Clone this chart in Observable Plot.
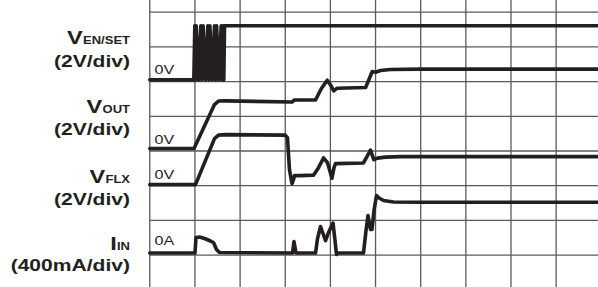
<!DOCTYPE html>
<html>
<head>
<meta charset="utf-8">
<script src="https://cdn.jsdelivr.net/npm/d3@7"></script>
<script src="https://cdn.jsdelivr.net/npm/@observablehq/plot@0.6"></script>
<style>
  html, body { margin: 0; padding: 0; background: #fff; overflow: hidden; }
  svg { display: block; }
</style>
</head>
<body>
<div id="chart"></div>
<script>
// ---- Data (time and amplitude in scope divisions) ----
const channelSub   = ["EN/SET", "OUT", "FLX", "IN"];
const channelMain  = ["V", "V", "V", "I"];
const channelScale = ["(2V/div)", "(2V/div)", "(2V/div)", "(400mA/div)"];
const zeroLabels   = ["0V", "0V", "0V", "0A"];
const channelZero  = [6.05, 4.07, 3.03, 1.06]; // ground level of each trace, in divisions

// V_EN/SET: burst of pulses, then high
const enT = [0, 0.975, 0.997, 1.012, 1.028, 1.079, 1.130, 1.154, 1.181, 1.234, 1.285, 1.309, 1.331, 1.382, 1.433, 1.457, 1.480, 1.531, 1.581, 1.606, 1.624, 1.639, 1.655, 10];
const enV = [0, 0, 1.56, 0, 1.56, 0, 1.56, 0, 1.56, 0, 1.56, 0, 1.56, 0, 1.56, 0, 1.56, 0, 1.56, 0, 1.56, 0, 1.56, 1.56];

// V_OUT
const outT = [0, 0.979, 1.433, 1.522, 1.677, 3.15, 3.2, 3.67, 3.8, 3.93, 4.0, 4.075, 4.15, 4.78, 4.845, 4.926, 5.0, 5.11, 5.33, 6.0, 10];
const outV = [0, 0, 1.268, 1.369, 1.375, 1.34, 1.4, 1.4, 1.73, 1.97, 1.84, 1.66, 1.74, 1.76, 1.96, 2.22, 2.2, 2.25, 2.28, 2.29, 2.29];

// V_FLX
const flxT = [0, 1.012, 1.433, 1.522, 1.677, 3.0, 3.049, 3.093, 3.15, 3.183, 3.205, 3.338, 3.626, 3.737, 3.847, 3.936, 4.035, 4.08, 4.113, 4.733, 4.822, 4.888, 4.961, 5.043, 5.22, 5.552, 10];
const flxV = [0, 0, 1.326, 1.427, 1.441, 1.427, 1.354, 0.432, 0.029, 0.144, 0.259, 0.259, 0.274, 0.49, 0.769, 0.634, 0.187, 0.49, 0.605, 0.625, 0.836, 0.994, 0.72, 0.764, 0.793, 0.807, 0.807];

// I_IN
const inT = [0, 1.001, 1.023, 1.101, 1.212, 1.344, 1.411, 1.477, 1.544, 3.161, 3.194, 3.238, 3.671, 3.715, 3.782, 3.836, 3.892, 3.958, 4.058, 4.102, 4.135, 4.168, 4.733, 4.789, 4.833, 4.888, 4.921, 4.966, 5.021, 5.077, 5.176, 5.397, 5.995, 10];
const inV = [0, 0, 0.447, 0.461, 0.418, 0.346, 0.303, 0.101, 0.014, 0.0, 0.331, 0.0, 0.0, 0.418, 0.764, 0.562, 0.36, 0.591, 0.865, 0.36, -0.043, 0.0, 0.0, 0.648, 1.081, 0.677, 0.677, 1.225, 1.657, 1.585, 1.513, 1.47, 1.464, 1.464];

const xGrid = [0, 1, 2, 3, 4, 5, 6, 7, 8, 9, 10];
const yGrid = [0, 1, 2, 3, 4, 5, 6, 7, 8];

// ---- Build tables ----
const traceT = [enT, outT, flxT, inT];
const traceV = [enV, outV, flxV, inV];
const traces = traceT.map((ts, i) => ts.map((t, j) => ({ch: i, t, y: channelZero[i] + traceV[i][j]})));

// label layout (division units)
const labelTopY  = [7.07, 5.081, 3.092, 1.161];
const labelUnitY = [6.435, 4.447, 2.458, 0.556];
const zeroLabelY = [6.205, 4.216, 3.207, 1.277];

const FONT = "'Liberation Sans', Arial, Helvetica, sans-serif";
const STRETCH = 1.24;
const subSize = 10.5, mainSize = 19, unitSize = 17;
const ctx = document.createElement("canvas").getContext("2d");
ctx.font = `bold ${subSize}px 'Liberation Sans'`;
const labelRight = -19.8;

const labels = channelSub.map((s, i) => ({
  i, sub: s, main: channelMain[i], unit: channelScale[i],
  subW: ctx.measureText(s).width * STRETCH
}));

const ink = "#231f20";
const grid = "#5a5a5a";

const marks = [
  Plot.ruleX(xGrid, {stroke: grid, strokeWidth: 1.3}),
  Plot.ruleY(yGrid, {stroke: grid, strokeWidth: 1.3}),
  ...traces.map(tr => Plot.line(tr, {x: "t", y: "y", stroke: ink, strokeWidth: 3.6, strokeLinejoin: "round", strokeLinecap: "round", curve: "linear"})),
  Plot.text(zeroLabels.map((z, i) => ({z, y: zeroLabelY[i]})), {
    x: () => 0, y: "y", text: "z", textAnchor: "start", lineAnchor: "bottom", dx: 4.7,
    fontFamily: FONT, fontSize: 13, fill: ink
  }),
  Plot.text(labels, {
    x: () => 0, y: d => labelTopY[d.i], text: "sub", textAnchor: "end", lineAnchor: "bottom", dx: labelRight,
    fontFamily: FONT, fontSize: subSize, fontWeight: "bold", fill: ink
  }),
  ...labels.map(d => Plot.text([d], {
    x: () => 0, y: () => labelTopY[d.i], text: "main", textAnchor: "end", lineAnchor: "bottom", dx: labelRight - d.subW - 0.3,
    fontFamily: FONT, fontSize: mainSize, fontWeight: "bold", fill: ink
  })),
  Plot.text(labels, {
    x: () => 0, y: d => labelUnitY[d.i], text: "unit", textAnchor: "end", lineAnchor: "bottom", dx: labelRight,
    fontFamily: FONT, fontSize: unitSize, fontWeight: "bold", fill: ink
  })
];

const chart = Plot.plot({
  width: 598,
  height: 287,
  marginLeft: 149.3,
  marginRight: 0,
  marginTop: 0,
  marginBottom: 0,
  x: {domain: [0, (598 - 149.3) / 45.15], axis: null},
  y: {domain: [(289.3 - 287) / 34.7, 289.3 / 34.7], axis: null},
  style: {background: "#fff", overflow: "hidden"},
  marks
});

// widen the Helvetica-like lettering horizontally, about each text anchor
chart.querySelectorAll("text").forEach(t => {
  const tr = t.getAttribute("transform");
  if (tr) {
    t.setAttribute("transform", `${tr} scale(${STRETCH},1)`);
  } else {
    const x = +t.getAttribute("x") || 0, y = +t.getAttribute("y") || 0;
    t.removeAttribute("x"); t.removeAttribute("y");
    t.setAttribute("transform", `translate(${x},${y}) scale(${STRETCH},1)`);
  }
});
document.getElementById("chart").appendChild(chart);
</script>
</body>
</html>
